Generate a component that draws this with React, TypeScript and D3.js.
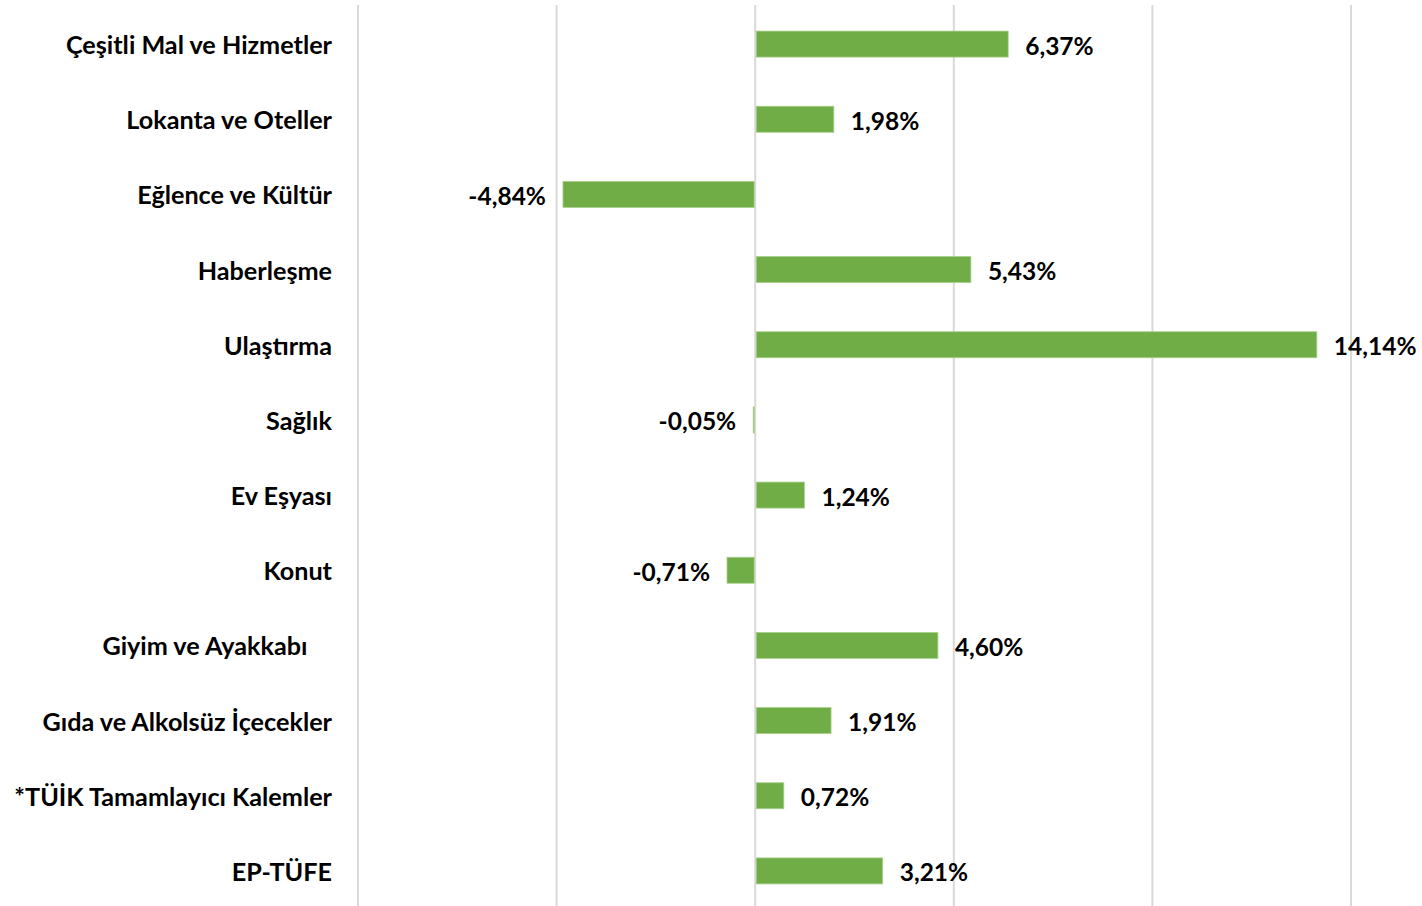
import React from "react";
import * as d3 from "d3";

const categories = [
  "Çeşitli Mal ve Hizmetler",
  "Lokanta ve Oteller",
  "Eğlence ve Kültür",
  "Haberleşme",
  "Ulaştırma",
  "Sağlık",
  "Ev Eşyası",
  "Konut",
  "Giyim ve Ayakkabı    ",
  "Gıda ve Alkolsüz İçecekler",
  "*TÜİK Tamamlayıcı Kalemler",
  "EP-TÜFE",
];
const values = [6.37, 1.98, -4.84, 5.43, 14.14, -0.05, 1.24, -0.71, 4.6, 1.91, 0.72, 3.21];
const gridTicks = [-10, -5, 0, 5, 10, 15];

const W = 1422;
const H = 906;
const FONT = "Lato, 'Open Sans', sans-serif";

export default function App() {
  const x = d3.scaleLinear().domain([-10, 15]).range([358, 1351]);
  const y = d3
    .scaleBand<string>()
    .domain(categories)
    .range([6.5, 908.5])
    .paddingInner(0.654)
    .paddingOuter(0.327);
  const fmt = (v: number) => v.toFixed(2).replace(".", ",") + "%";
  return (
    <div style={{ position: "absolute", left: 0, top: 0 }}>
      <svg width={W} height={H} style={{ display: "block", background: "#fff" }}>
        {gridTicks.map((t) => (
          <line key={t} x1={x(t)} x2={x(t)} y1={5} y2={H} stroke="#D9D9D9" strokeWidth={2} />
        ))}
        {categories.map((c, i) => {
          const v = values[i];
          const x0 = x(Math.min(0, v));
          const x1 = x(Math.max(0, v));
          const yy = y(c)!;
          const cy = yy + y.bandwidth() / 2;
          return (
            <g key={c}>
              <rect
                x={v >= 0 ? x0 + 1 : x0}
                y={yy}
                width={Math.max(1, x1 - x0 - 1)}
                height={y.bandwidth()}
                fill="#70AD47"
                stroke="#A9D08E"
                strokeWidth={0.8}
              />
              <text
                x={332}
                y={cy}
                textAnchor="end"
                dominantBaseline="central"
                fontFamily={FONT}
                fontWeight={700}
                fontSize={25.2}
                fill="#000"
                style={{ whiteSpace: "pre" }}
              >
                {c}
              </text>
              <text
                x={v >= 0 ? x1 + 17 : x0 - 17}
                y={cy + 1}
                textAnchor={v >= 0 ? "start" : "end"}
                dominantBaseline="central"
                fontFamily={FONT}
                fontWeight={700}
                fontSize={24.5}
                fill="#000"
              >
                {fmt(v)}
              </text>
            </g>
          );
        })}
      </svg>
    </div>
  );
}
